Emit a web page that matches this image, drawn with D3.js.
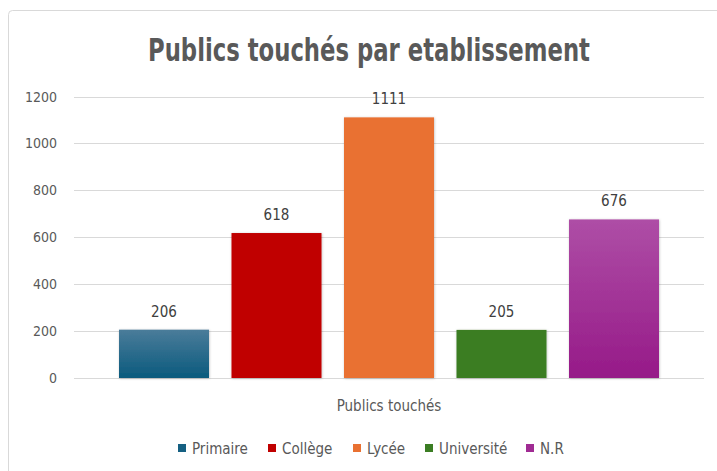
<!DOCTYPE html>
<html><head><meta charset="utf-8">
<script src="https://cdn.jsdelivr.net/npm/d3@7"></script>
<style>
body{margin:0;background:#fff;}
svg{display:block;}
text{font-family:"Liberation Sans Narrow","DejaVu Sans Condensed","Roboto",sans-serif;}
</style></head>
<body>
<svg id="c" width="717" height="471"></svg>
<script>
const categories = ["Primaire","Collège","Lycée","Université","N.R"];
const values = [206,618,1111,205,676];
const colors = ["#156082","#C00000","#E97132","#3B7D23","#A02B93"];
const gradientTops = ["#4a7c9a",null,null,null,"#ae4ea6"];
const gradientBottoms = ["#0b5a7d",null,null,null,"#961a88"];
const yTicks = [0,200,400,600,800,1000,1200];
const title = "Publics touchés par etablissement";
const axisTitle = "Publics touchés";

const svg = d3.select("#c");
const defs = svg.append("defs");
const f = defs.append("filter").attr("id","sh").attr("x","-10%").attr("y","-10%").attr("width","130%").attr("height","130%");
f.append("feDropShadow").attr("dx",0.5).attr("dy",0.5).attr("stdDeviation",1).attr("flood-color","#000").attr("flood-opacity",0.25);
categories.forEach((c,i)=>{
  if(gradientTops[i]){
    const g = defs.append("linearGradient").attr("id","g"+i).attr("x1",0).attr("y1",0).attr("x2",0).attr("y2",1);
    g.append("stop").attr("offset","0%").attr("stop-color",gradientTops[i]);
    g.append("stop").attr("offset","100%").attr("stop-color",gradientBottoms[i]);
  }
});

svg.append("rect").attr("x",8.5).attr("y",10.5).attr("width",730).attr("height",480).attr("rx",4)
  .attr("fill","#fff").attr("stroke","#d9d9d9");

const x = d3.scaleBand().domain(categories).range([74,704]).paddingInner(0.2).paddingOuter(0.4);
const y = d3.scaleLinear().domain([0,1200]).range([378,96.5]);

svg.append("text").attr("x",369).attr("y",61).attr("text-anchor","middle")
  .attr("font-size",32).attr("font-weight","bold").attr("fill","#595959")
  .attr("textLength",442).attr("lengthAdjust","spacingAndGlyphs").text(title);

const ga = svg.append("g");
ga.selectAll("line.grid").data(yTicks).join("line")
  .attr("x1",74).attr("x2",704).attr("y1",d=>Math.round(y(d))+0.5).attr("y2",d=>Math.round(y(d))+0.5)
  .attr("stroke","#d9d9d9").attr("stroke-width",1);
ga.selectAll("text.tick").data(yTicks).join("text")
  .attr("x",57).attr("y",d=>y(d)+5).attr("text-anchor","end")
  .attr("font-size",14).attr("fill","#595959").text(d=>d);

svg.selectAll("rect.bar").data(values).join("rect")
  .attr("x",(d,i)=>x(categories[i])).attr("width",x.bandwidth())
  .attr("y",d=>y(d)).attr("height",d=>y(0)-y(d))
  .attr("fill",(d,i)=>gradientTops[i]?`url(#g${i})`:colors[i])
  .attr("filter","url(#sh)");

svg.selectAll("text.lbl").data(values).join("text")
  .attr("x",(d,i)=>x(categories[i])+x.bandwidth()/2).attr("y",d=>y(d)-13)
  .attr("text-anchor","middle").attr("font-size",15).attr("fill","#404040").text(d=>d);

svg.append("text").attr("x",389).attr("y",411).attr("text-anchor","middle")
  .attr("font-size",15).attr("fill","#595959").text(axisTitle);

const legX = [178,268,353,425,526];
const lg = svg.selectAll("g.leg").data(categories).join("g").attr("transform",(d,i)=>`translate(${legX[i]},448)`);
lg.append("rect").attr("x",0).attr("y",-4).attr("width",8).attr("height",8).attr("fill",(d,i)=>colors[i]);
lg.append("text").attr("x",14).attr("y",5.5).attr("font-size",15).attr("fill","#595959").text(d=>d);
</script>
</body></html>
